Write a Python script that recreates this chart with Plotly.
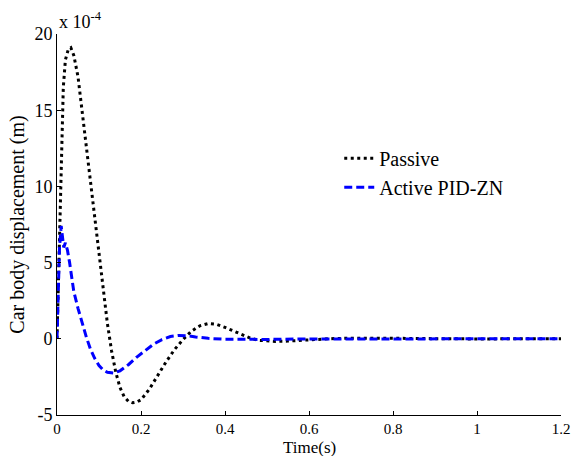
import plotly.graph_objects as go

# Time samples (s) and car body displacement (x 1e-4 m)
t_passive = [0, 0.005, 0.01, 0.015, 0.02, 0.027, 0.033, 0.04, 0.05, 0.06, 0.07, 0.08,
             0.09, 0.10, 0.11, 0.12, 0.13, 0.14, 0.15, 0.16, 0.17, 0.18, 0.19, 0.20,
             0.22, 0.24, 0.26, 0.28, 0.30, 0.32, 0.34, 0.36, 0.38, 0.40, 0.42, 0.44,
             0.46, 0.48, 0.50, 0.52, 0.55, 0.58, 0.62, 0.66, 0.70, 0.75, 0.80, 0.85,
             0.90, 1.00, 1.10, 1.20]
y_passive = [0, 6.0, 12.5, 16.5, 18.3, 19.0, 19.1, 18.6, 17.2, 14.9, 12.6, 10.4,
             8.0, 5.5, 3.2, 1.0, -0.8, -2.2, -3.2, -3.8, -4.1, -4.2, -4.15, -4.0,
             -3.3, -2.4, -1.5, -0.7, -0.05, 0.5, 0.85, 1.0, 0.95, 0.75, 0.5, 0.25,
             0.05, -0.1, -0.15, -0.17, -0.15, -0.1, -0.03, 0.02, 0.04, 0.05, 0.04, 0.02,
             0.0, -0.01, 0.0, 0.0]

t_active = [0, 0.003, 0.006, 0.01, 0.013, 0.016, 0.02, 0.025, 0.03, 0.04, 0.05, 0.06,
            0.07, 0.08, 0.09, 0.10, 0.11, 0.12, 0.135, 0.15, 0.17, 0.19, 0.21, 0.23,
            0.25, 0.27, 0.29, 0.31, 0.33, 0.36, 0.40, 0.45, 0.50, 0.60, 0.70, 0.80,
            0.90, 1.00, 1.10, 1.20]
y_active = [0, 3.0, 6.0, 7.4, 6.6, 6.0, 6.3, 5.8, 5.0, 3.1, 2.0, 1.0,
            0.1, -0.7, -1.3, -1.75, -2.05, -2.2, -2.25, -2.1, -1.7, -1.2, -0.75, -0.35,
            -0.05, 0.15, 0.22, 0.2, 0.12, 0.03, -0.03, -0.05, -0.04, -0.01, 0.0, 0.0,
            0.0, 0.0, 0.0, 0.0]

x_ticks = [0, 0.2, 0.4, 0.6, 0.8, 1, 1.2]
x_tick_text = ["0", "0.2", "0.4", "0.6", "0.8", "1", "1.2"]
y_ticks = [-5, 0, 5, 10, 15, 20]
y_tick_text = ["-5", "0", "5", "10", "15", "20"]

FONT = "'Liberation Serif', 'DejaVu Serif', serif"

fig = go.Figure()
fig.add_trace(go.Scatter(
    x=t_passive, y=y_passive, mode="lines", name="Passive", legendgroup="p",
    line=dict(color="black", width=3, dash="3px,3.5px"),
))
fig.add_trace(go.Scatter(
    x=t_active, y=y_active, mode="lines", name="Active PID-ZN", legendgroup="a",
    line=dict(color="#0000ff", width=3, dash="8px,4px"),
))

axis_common = dict(
    showgrid=False, zeroline=False, showline=True, linecolor="black", linewidth=1,
    ticks="inside", ticklen=4, tickcolor="black", tickwidth=1, mirror=False,
    automargin=False,
)

fig.update_layout(
    template="none",
    width=573, height=456,
    margin=dict(l=57, r=12, t=34, b=41),
    paper_bgcolor="white", plot_bgcolor="white",
    font=dict(family=FONT, color="black"),
    xaxis=dict(range=[0, 1.2], tickvals=x_ticks, ticktext=x_tick_text,
               tickfont=dict(family=FONT, size=15, color="black"), **axis_common),
    yaxis=dict(range=[-5, 20], tickvals=y_ticks, ticktext=y_tick_text,
               tickfont=dict(family=FONT, size=18, color="black"),
               title=dict(text="Car body displacement (m)", font=dict(family=FONT, size=20),
                          standoff=4),
               **axis_common),
    showlegend=True,
    legend=dict(x=0.56, y=0.725, xanchor="left", yanchor="top",
                bgcolor="rgba(0,0,0,0)", font=dict(family=FONT, size=20),
                tracegroupgap=0, itemwidth=30),
    annotations=[
        dict(text="x 10<sup>-4</sup>", xref="paper", yref="paper", x=0, y=1,
             xanchor="left", yanchor="bottom", showarrow=False,
             font=dict(family=FONT, size=18, color="black")),
        dict(text="Time(s)", xref="paper", yref="paper", x=0.5, y=-0.084,
             xanchor="center", yanchor="middle", showarrow=False,
             font=dict(family=FONT, size=17, color="black")),
    ],
)

fig.write_html("out.html")
